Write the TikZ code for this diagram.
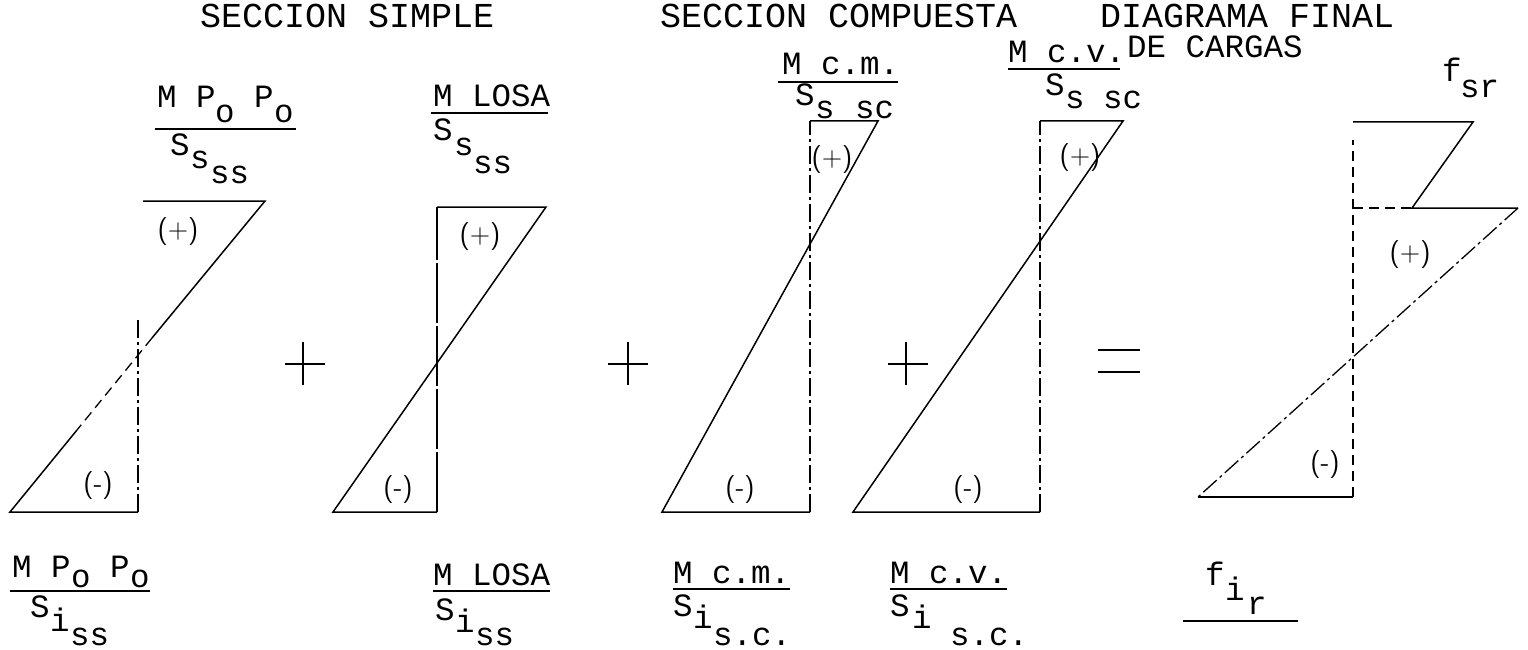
\documentclass[tikz,border=0pt]{standalone}
\usepackage{fontspec}
\newfontfamily\tw{Liberation Mono}
\begin{document}
\begin{tikzpicture}[x=1pt,y=-1pt,
  tw/.style={font=\tw\fontsize{32.5}{36}\selectfont, inner sep=0pt, anchor=base west},
  ttl/.style={font=\tw\fontsize{35}{38}\selectfont, inner sep=0pt, anchor=base west},
  sgn/.style={font=\sffamily\fontsize{28}{30}\selectfont, inner sep=0pt},
  ln/.style={line width=1.5pt},
  dd/.style={line width=1.3pt, dash pattern=on 18pt off 4pt on 3pt off 4pt},
  dl/.style={line width=1.3pt, dash pattern=on 10pt off 6pt}]
\useasboundingbox (0,0) rectangle (1528,650);
% titles
\node[ttl] (t1) at (200,28) {SECCION SIMPLE};
\node[ttl] (t2) at (660,28) {SECCION COMPUESTA};
\node[ttl] (t3) at (1100,28) {DIAGRAMA FINAL};
\node[tw] (t4) at (1127,58) {DE CARGAS};
% ---- diagram 1 top label
\node[tw] (a1) at (157,108) {M P};
\node[tw] (a2) at (215,123) {o};
\node[tw] (a3) at (254,108) {P};
\node[tw] (a4) at (274,123) {o};
\draw[ln] (155,129) -- (296,129);
\node[tw] (a5) at (170,155) {S};
\node[tw] (a6) at (190,168) {s};
\node[tw] (a7) at (210,183) {ss};
% diagram 1
\draw[ln] (143,201) -- (265,201) -- (152,338);
\draw[dl] (152,338) -- (77,430);
\draw[ln] (77,430) -- (10,512) -- (138,512);
\draw[dd] (138,512) -- (138,320);
\node[sgn] (p1) at (178,232) {(+)};
\node[sgn] (m1) at (98,486) {(-)};
% ---- diagram 1 bottom label
\node[tw] (b1) at (12,577) {M P};
\node[tw] (b2) at (71,587) {o};
\node[tw] (b3) at (110,577) {P};
\node[tw] (b4) at (130,587) {o};
\draw[ln] (10,591) -- (150,591);
\node[tw] (b5) at (30,617) {S};
\node[tw] (b6) at (50,631) {i};
\node[tw] (b7) at (70,645) {ss};
% ---- plus 1
\draw[ln] (285,364) -- (325,364);
\draw[ln] (303,342) -- (303,385);
% ---- diagram 2 top label
\node[tw] (c1) at (433,107) {M LOSA};
\draw[ln] (431,113) -- (548,113);
\node[tw] (c2) at (433,140) {S};
\node[tw] (c3) at (454,155) {s};
\node[tw] (c4) at (473,173) {ss};
% diagram 2
\draw[ln] (437,207) -- (546,207) -- (333,512) -- (437,512);
\draw[ln, dash pattern=on 60pt off 3pt] (437,512) -- (437,207);
\node[sgn] (p2) at (480,237) {(+)};
\node[sgn] (m2) at (398,490) {(-)};
% diagram 2 bottom label
\node[tw] (d1) at (433,585) {M LOSA};
\draw[ln] (433,591) -- (550,591);
\node[tw] (d2) at (435,620) {S};
\node[tw] (d3) at (455,632) {i};
\node[tw] (d4) at (475,645) {ss};
% ---- plus 2
\draw[ln] (608,364) -- (648,364);
\draw[ln] (628,342) -- (628,385);
% ---- diagram 3 top label
\node[tw] (e1) at (782,75) {M c.m.};
\draw[ln] (778,82) -- (898,82);
\node[tw] (e2) at (795,106) {S};
\node[tw] (e3) at (815,119) {s};
\node[tw] (e4) at (855,119) {sc};
% diagram 3
\draw[ln] (810,121) -- (878,121) -- (662,512) -- (810,512);
\draw[dd] (810,512) -- (810,121);
\node[sgn] (p3) at (832,160) {(+)};
\node[sgn] (m3) at (740,490) {(-)};
% diagram 3 bottom label
\node[tw] (f1) at (673,583) {M c.m.};
\draw[ln] (673,589) -- (790,589);
\node[tw] (f2) at (673,616) {S};
\node[tw] (f3) at (693,628) {i};
\node[tw] (f4) at (713,645) {s.c.};
% ---- plus 3
\draw[ln] (888,364) -- (928,364);
\draw[ln] (906,342) -- (906,385);
% ---- diagram 4 top label
\node[tw] (g1) at (1008,63) {M c.v.};
\draw[ln] (1008,69) -- (1120,69);
\node[tw] (g2) at (1045,96) {S};
\node[tw] (g3) at (1065,109) {s};
\node[tw] (g4) at (1103,109) {sc};
% diagram 4
\draw[ln] (1040,121) -- (1123,121) -- (853,512) -- (1040,512);
\draw[dd] (1040,512) -- (1040,121);
\node[sgn] (p4) at (1080,158) {(+)};
\node[sgn] (m4) at (968,490) {(-)};
% diagram 4 bottom label
\node[tw] (h1) at (890,583) {M c.v.};
\draw[ln] (890,589) -- (1007,589);
\node[tw] (h2) at (890,616) {S};
\node[tw] (h3) at (912,628) {i};
\node[tw] (h4) at (950,645) {s.c.};
% ---- equals
\draw[ln] (1098,350) -- (1140,350);
\draw[ln] (1098,372) -- (1140,372);
% ---- diagram 5
\node[tw] (k1) at (1442,82) {f};
\node[tw] (k2) at (1460,98) {sr};
\draw[ln] (1353,122) -- (1473,122) -- (1412,208) -- (1518,208);
\draw[dl] (1353,208) -- (1412,208);
\draw[dd] (1518,208) -- (1198,497);
\draw[ln] (1198,497) -- (1353,497);
\draw[dl] (1353,497) -- (1353,140);
\node[sgn] (p5) at (1410,255) {(+)};
\node[sgn] (m5) at (1325,465) {(-)};
\node[tw] (n1) at (1205,585) {f};
\node[tw] (n2) at (1225,600) {i};
\node[tw] (n3) at (1247,614) {r};
\draw[ln] (1183,621) -- (1298,621);
\end{tikzpicture}
\end{document}
